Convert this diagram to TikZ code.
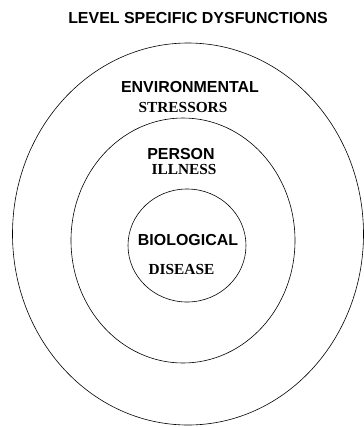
\documentclass[tikz,border=0pt]{standalone}
\usepackage{fontspec}
\setmainfont{Liberation Serif}
\setsansfont{Liberation Sans}
\usetikzlibrary{shapes.geometric}
\tikzset{
    % Rings
    ring/.style={ellipse, draw=black, line width=0.6pt, inner sep=0pt},
    % Labels
    capSans/.style={anchor=base, inner sep=0pt, font=\fontsize{16}{18}\selectfont\sffamily\bfseries},
    capSerif/.style={anchor=base, inner sep=0pt, font=\fontsize{15.4}{18}\selectfont\rmfamily\bfseries}
}
\begin{document}
\begin{tikzpicture}[x=1bp, y=-1bp]

\useasboundingbox (0,0) rectangle (364,427);

\node[capSans] (title) at (198,23) {LEVEL SPECIFIC DYSFUNCTIONS};

\node[ring, minimum width=351bp, minimum height=382bp] (env) at (188,234) {};
\node[ring, minimum width=224bp, minimum height=245bp] (person) at (183,240.5) {};
\node[ring, minimum width=118bp, minimum height=113bp] (bio) at (187,245.5) {};

\node[capSans] (envA) at (190,92) {ENVIRONMENTAL};
\node[capSerif] (envB) at (183,112) {STRESSORS};

\node[capSans] (personA) at (181,159) {PERSON};
\node[capSerif] (personB) at (184,174) {ILLNESS};

\node[capSans] (bioA) at (188,245) {BIOLOGICAL};
\node[capSerif] (bioB) at (181.5,274) {DISEASE};

\end{tikzpicture}
\end{document}
